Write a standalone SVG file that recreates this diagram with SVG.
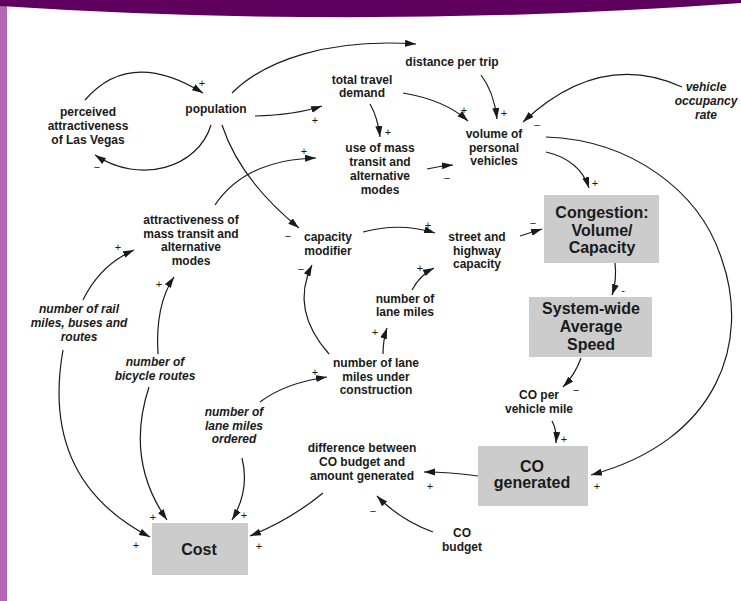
<svg xmlns="http://www.w3.org/2000/svg" width="741" height="601" viewBox="0 0 741 601">
<style>
.t{font-family:"Liberation Sans",Arial,sans-serif;font-weight:bold;font-size:12px;text-anchor:middle;fill:#1a1a1a}
.i{font-style:italic}
.b{font-size:16px}
.box{fill:#cccccc}
.c path{fill:none;stroke:#1a1a1a;stroke-width:1.2;marker-end:url(#ah)}
.s{font-family:"Liberation Sans",Arial,sans-serif;font-size:11px;text-anchor:middle;fill:#1a1a1a}
</style>
<defs>
<marker id="ah" markerUnits="userSpaceOnUse" markerWidth="12" markerHeight="8" refX="11" refY="3.5" orient="auto">
<path d="M0,0 L11,3.5 L0,7 z" fill="#1a1a1a"/>
</marker>
</defs>
<rect width="741" height="601" fill="#ffffff"/>
<rect x="0" y="0" width="7" height="601" fill="#b565b5"/>
<path d="M0,0 H741 V3 Q370,30 0,6 z" fill="#5f005f"/>

<g class="c" id="connectors">
<path d="M85,100 Q130,48 203,93"/>
<path d="M211,125 C198,168 140,185 95,155"/>
<path d="M232,93 C265,60 330,38 416,44"/>
<path d="M255,116 Q295,115 322,106"/>
<path d="M222,125 Q240,180 299,228"/>
<path d="M215,205 Q245,160 316,158"/>
<path d="M370,104 Q378,118 380,137"/>
<path d="M403,93 Q445,100 468,121"/>
<path d="M481,75 Q494,92 497,119"/>
<path d="M682,87 Q600,50 523,122"/>
<path d="M427,169 Q440,166 453,165"/>
<path d="M546,152 Q580,160 589,188"/>
<path d="M546,137 C630,140 700,190 722,260 C750,340 720,440 591,475"/>
<path d="M520,236 L542,229"/>
<path d="M363,232 Q400,222 435,233"/>
<path d="M412,290 Q420,275 434,268"/>
<path d="M383,354 Q383,340 387,328"/>
<path d="M329,354 Q290,310 312,265"/>
<path d="M260,402 Q285,383 327,377"/>
<path d="M242,458 Q250,490 232,520"/>
<path d="M149,387 Q125,460 167,520"/>
<path d="M63,350 Q40,480 150,537"/>
<path d="M323,493 Q290,520 250,536"/>
<path d="M478,476 Q450,472 424,472"/>
<path d="M433,532 Q400,520 377,496"/>
<path d="M83,300 Q100,265 134,250"/>
<path d="M158,354 Q155,305 174,277"/>
<path d="M615,263 Q617,280 612,295"/>
<path d="M581,358 Q575,375 563,387"/>
<path d="M552,421 Q557,430 556,443"/>
</g>

<g id="signs">
<text class="s" x="202" y="87">+</text>
<text class="s" x="97" y="171">−</text>
<text class="s" x="315" y="124">+</text>
<text class="s" x="288" y="240">−</text>
<text class="s" x="304" y="155">+</text>
<text class="s" x="388" y="136">+</text>
<text class="s" x="464" y="114">+</text>
<text class="s" x="504" y="117">+</text>
<text class="s" x="537" y="129">−</text>
<text class="s" x="447" y="182">−</text>
<text class="s" x="595" y="187">+</text>
<text class="s" x="597" y="490">+</text>
<text class="s" x="533" y="227">−</text>
<text class="s" x="428" y="229">+</text>
<text class="s" x="420" y="272">+</text>
<text class="s" x="375" y="336">+</text>
<text class="s" x="301" y="273">−</text>
<text class="s" x="315" y="376">+</text>
<text class="s" x="244" y="519">+</text>
<text class="s" x="153" y="521">+</text>
<text class="s" x="136" y="549">+</text>
<text class="s" x="259" y="550">+</text>
<text class="s" x="430" y="490">+</text>
<text class="s" x="373" y="515">−</text>
<text class="s" x="118" y="251">+</text>
<text class="s" x="159" y="288">+</text>
<text class="s" x="623" y="294">-</text>
<text class="s" x="576" y="394">−</text>
<text class="s" x="564" y="443">+</text>
</g>

<g id="perceived"><text class="t"><tspan x="88" y="116">perceived</tspan><tspan x="88" y="130">attractiveness</tspan><tspan x="88" y="144">of Las Vegas</tspan></text></g>
<g id="population"><text class="t" x="216" y="113">population</text></g>
<g id="distance"><text class="t" x="452" y="66">distance per trip</text></g>
<g id="demand"><text class="t"><tspan x="362" y="84">total travel</tspan><tspan x="362" y="97">demand</tspan></text></g>
<g id="usemass"><text class="t"><tspan x="380" y="152">use of mass</tspan><tspan x="380" y="166">transit and</tspan><tspan x="380" y="180">alternative</tspan><tspan x="380" y="194">modes</tspan></text></g>
<g id="volume"><text class="t"><tspan x="494" y="138">volume of</tspan><tspan x="494" y="152">personal</tspan><tspan x="494" y="165">vehicles</tspan></text></g>
<g id="occupancy"><text class="t i"><tspan x="706" y="91">vehicle</tspan><tspan x="706" y="105">occupancy</tspan><tspan x="706" y="119">rate</tspan></text></g>
<g id="congestion"><rect class="box" x="544" y="195" width="115" height="68"/><text class="t b"><tspan x="602" y="218">Congestion:</tspan><tspan x="602" y="235.5">Volume/</tspan><tspan x="602" y="253">Capacity</tspan></text></g>
<g id="speed"><rect class="box" x="529" y="297" width="123" height="60"/><text class="t b"><tspan x="591" y="314">System-wide</tspan><tspan x="591" y="332">Average</tspan><tspan x="591" y="350">Speed</tspan></text></g>
<g id="copermile"><text class="t"><tspan x="539" y="399">CO per</tspan><tspan x="539" y="413">vehicle mile</tspan></text></g>
<g id="cogenerated"><rect class="box" x="478" y="446" width="110" height="60"/><text class="t b"><tspan x="532" y="471.5">CO</tspan><tspan x="532" y="488">generated</tspan></text></g>
<g id="cost"><rect class="box" x="152" y="523" width="96" height="52"/><text class="t b" x="199" y="555">Cost</text></g>
<g id="difference"><text class="t"><tspan x="362" y="452">difference between</tspan><tspan x="362" y="466">CO budget and</tspan><tspan x="362" y="480">amount generated</tspan></text></g>
<g id="cobudget"><text class="t"><tspan x="462" y="537">CO</tspan><tspan x="462" y="551">budget</tspan></text></g>
<g id="ordered"><text class="t i"><tspan x="234" y="416">number of</tspan><tspan x="234" y="430">lane miles</tspan><tspan x="234" y="443">ordered</tspan></text></g>
<g id="construction"><text class="t"><tspan x="376" y="367">number of lane</tspan><tspan x="376" y="381">miles under</tspan><tspan x="376" y="394">construction</tspan></text></g>
<g id="lanemiles"><text class="t"><tspan x="405" y="303">number of</tspan><tspan x="405" y="316">lane miles</tspan></text></g>
<g id="street"><text class="t"><tspan x="477" y="241">street and</tspan><tspan x="477" y="255">highway</tspan><tspan x="477" y="268">capacity</tspan></text></g>
<g id="modifier"><text class="t"><tspan x="328" y="241">capacity</tspan><tspan x="328" y="255">modifier</tspan></text></g>
<g id="attractiveness"><text class="t"><tspan x="191" y="224">attractiveness of</tspan><tspan x="191" y="237.5">mass transit and</tspan><tspan x="191" y="251">alternative</tspan><tspan x="191" y="265">modes</tspan></text></g>
<g id="rail"><text class="t i"><tspan x="79" y="313">number of rail</tspan><tspan x="79" y="327">miles, buses and</tspan><tspan x="79" y="341">routes</tspan></text></g>
<g id="bicycle"><text class="t i"><tspan x="155" y="366">number of</tspan><tspan x="155" y="380">bicycle routes</tspan></text></g>
</svg>
